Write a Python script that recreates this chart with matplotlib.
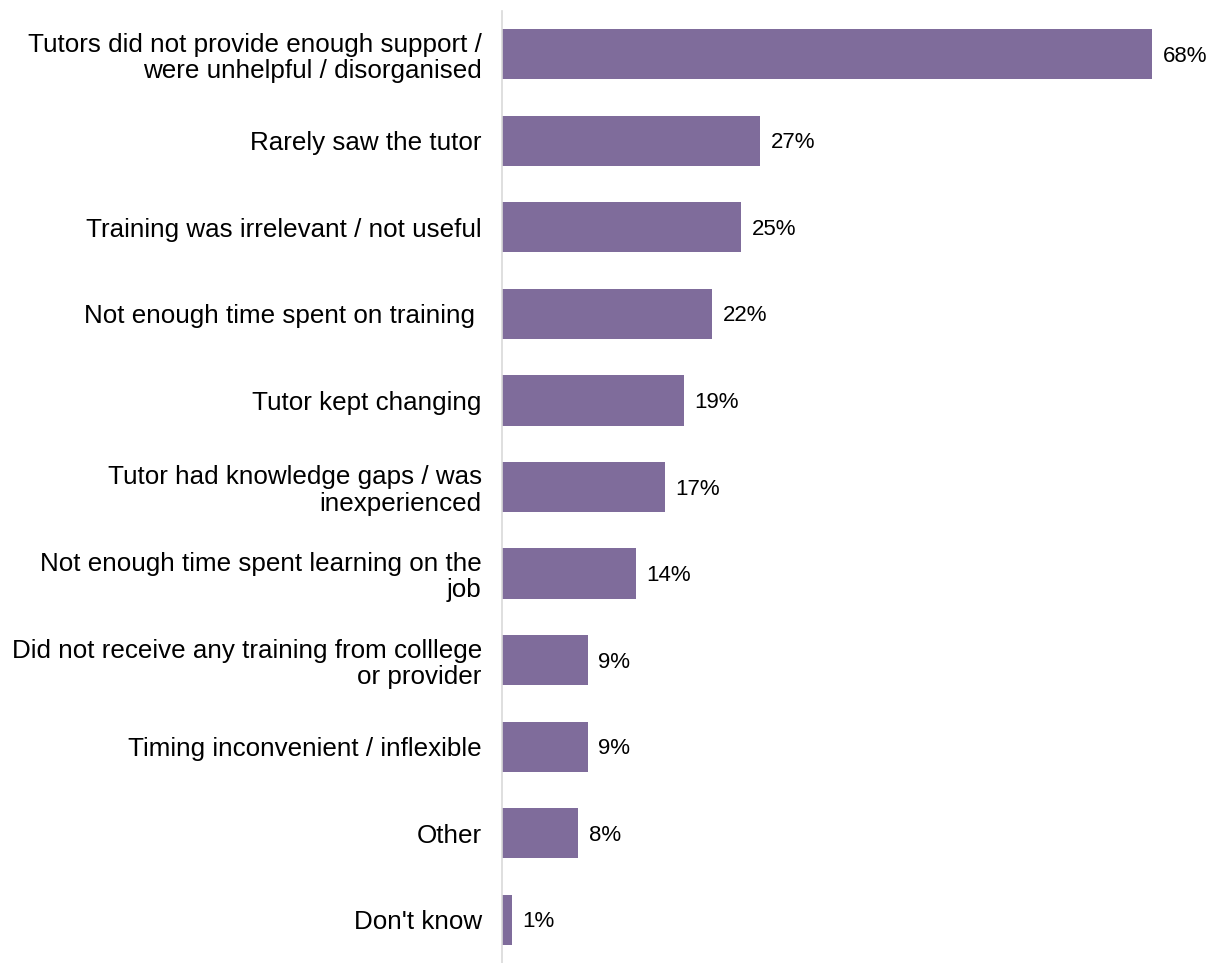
import matplotlib.pyplot as plt

plt.rcParams['font.family'] = ['Liberation Sans', 'DejaVu Sans']

categories = [
    "Tutors did not provide enough support /\nwere unhelpful / disorganised",
    "Rarely saw the tutor",
    "Training was irrelevant / not useful",
    "Not enough time spent on training ",
    "Tutor kept changing",
    "Tutor had knowledge gaps / was\ninexperienced",
    "Not enough time spent learning on the\njob",
    "Did not receive any training from colllege\nor provider",
    "Timing inconvenient / inflexible",
    "Other",
    "Don't know",
]
values = [68, 27, 25, 22, 19, 17, 14, 9, 9, 8, 1]
value_labels = [f"{v}%" for v in values]

bar_color = '#7F6C9B'

fig = plt.figure(figsize=(12.16, 9.63), dpi=100)
ax = fig.add_axes([0.4128, 0.0, 0.582, 0.9886])

y = list(range(len(categories)))
bars = ax.barh(y, values, height=0.58, color=bar_color)

ax.set_xlim(0, 74)
ax.set_ylim(len(categories) - 0.5, -0.5)

ax.set_yticks(y)
ax.set_yticklabels(categories, fontsize=18.7, ha='right', linespacing=1.12)
ax.tick_params(axis='y', length=0, pad=14.5)
ax.set_xticks([])

# value labels just right of each bar
for b, lab in zip(bars, value_labels):
    ax.annotate(lab, (b.get_width(), b.get_y() + b.get_height() / 2),
                xytext=(7.5, -1.5), textcoords='offset points',
                va='center', ha='left', fontsize=16)

for s in ['top', 'right', 'bottom']:
    ax.spines[s].set_visible(False)
ax.spines['left'].set_color('#D9D9D9')
ax.spines['left'].set_linewidth(1.2)

fig.savefig('out.png', dpi=100)
